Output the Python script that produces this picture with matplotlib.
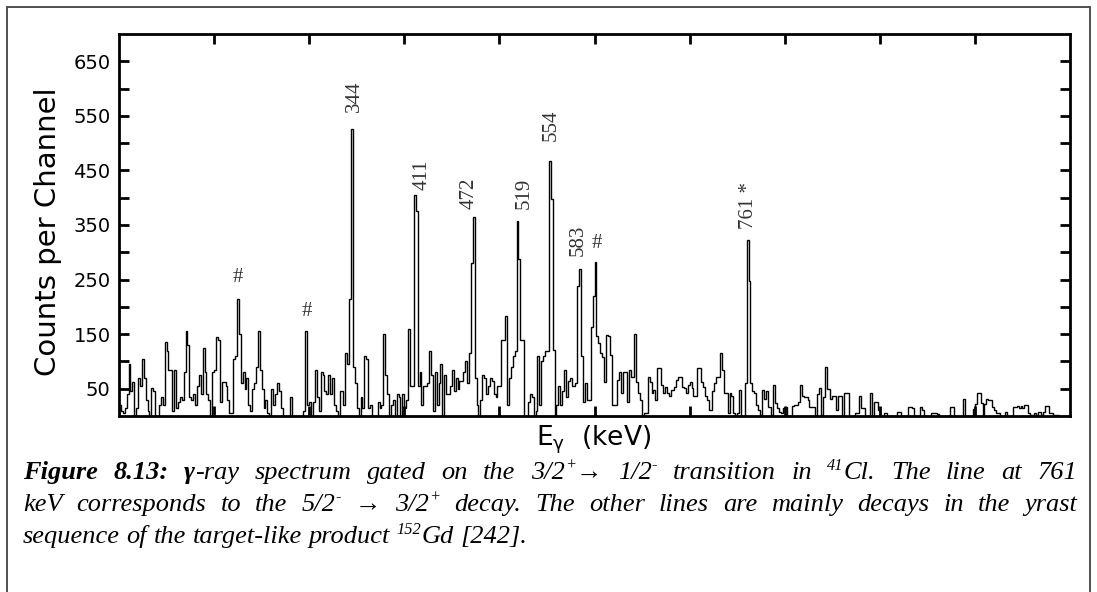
import numpy as np
import matplotlib
matplotlib.use("Agg")
import matplotlib.pyplot as plt
from matplotlib.patches import Rectangle
from matplotlib.ticker import FixedLocator, NullFormatter

W, H = 1097, 592

# counts per 2 keV channel, starting at 100 keV
seg_100 = [20, 10, 5, 15, 40, 95, 45, 62, 0, 15, 70, 55, 105, 70, 30, 10, 0, 52, 45, 0, 0, 20, 35, 20, 135,
           120, 85, 85, 10, 85, 15, 25, 35, 30, 80, 155, 130, 35, 30, 40, 20, 55, 75, 40, 125, 80, 40, 30, 0, 80]
seg_200 = [85, 145, 140, 25, 62, 62, 55, 30, 5, 5, 105, 110, 215, 150, 60, 80, 50, 70, 20, 10, 50, 60, 90, 155, 85,
           50, 15, 30, 5, 0, 50, 20, 40, 60, 45, 15, 0, 0, 0, 0, 35, 0, 0, 0, 0, 0, 0, 10, 155, 20]
seg_300 = [25, 0, 25, 85, 35, 10, 80, 75, 45, 40, 75, 40, 70, 20, 10, 0, 45, 45, 20, 115, 95, 215, 526, 90, 60,
           15, 0, 35, 15, 110, 105, 15, 20, 0, 0, 0, 25, 15, 20, 150, 75, 40, 0, 20, 30, 0, 40, 35, 0, 40]
seg_400 = [15, 30, 160, 55, 55, 405, 375, 55, 80, 20, 55, 55, 60, 120, 75, 10, 80, 20, 60, 95, 0, 75, 40, 40, 55,
           85, 45, 70, 50, 65, 65, 80, 100, 60, 115, 280, 365, 70, 20, 0, 30, 75, 70, 40, 55, 70, 65, 40, 35, 55]
seg_500 = [55, 140, 140, 184, 20, 70, 90, 110, 120, 358, 287, 140, 140, 0, 0, 25, 40, 35, 0, 10, 110, 20, 100, 110, 120,
           120, 467, 397, 121, 0, 20, 55, 20, 45, 85, 35, 65, 70, 55, 55, 60, 238, 270, 110, 25, 60, 30, 30, 164, 219]
seg_600 = [282, 146, 134, 115, 109, 63, 149, 146, 112, 20, 20, 20, 66, 81, 42, 81, 81, 26, 85, 72, 72, 150, 63, 42, 29,
           0, 5, 5, 72, 63, 42, 48, 29, 88, 88, 57, 42, 54, 42, 36, 48, 48, 54, 66, 72, 72, 54, 51, 42, 57]
seg_700 = [63, 51, 36, 36, 88, 88, 63, 54, 36, 29, 11, 11, 45, 60, 72, 72, 115, 85, 42, 42, 5, 43, 36, 5, 0,
           5, 47, 0, 0, 60, 322, 247, 60, 45, 43, 20, 11, 2, 48, 32, 45, 17, 17, 2, 57, 23, 14, 8, 5, 14]
seg_800 = [16, 0, 0, 0, 18, 20, 20, 26, 57, 36, 34, 34, 29, 17, 17, 17, 0, 40, 51, 2, 34, 89, 49, 49, 32,
           36, 36, 11, 36, 36, 0, 43, 43, 43, 0, 0, 0, 6, 6, 36, 14, 14, 0, 0, 0, 43, 0, 25, 25, 11]
seg_900 = [0, 0, 5, 5, 0, 0, 0, 0, 0, 7, 7, 0, 0, 0, 0, 17, 17, 14, 0, 0, 0, 16, 11, 0, 0,
           0, 0, 6, 6, 6, 4, 0, 0, 0, 0, 0, 0, 16, 16, 0, 0, 0, 0, 0, 32, 0, 0, 0, 0, 12]
seg_1000 = [22, 43, 43, 23, 2, 22, 31, 29, 29, 17, 11, 5, 5, 0, 0, 0, 8, 0, 0, 0, 17, 17, 18, 14, 18,
            14, 20, 20, 6, 2, 2, 5, 2, 8, 8, 2, 7, 18, 18, 5, 5, 2, 2, 2, 0, 0, 0, 0, 0, 0]

counts = np.array(seg_100 + seg_200 + seg_300 + seg_400 + seg_500 +
                  seg_600 + seg_700 + seg_800 + seg_900 + seg_1000, dtype=float)
edges = 100 + 2 * np.arange(counts.size + 1)

# peak labels: text, energy, counts, rotated?
lab_text = ["#", "#", "344", "411", "472", "519", "554", "583", "#", "761 *"]
lab_e = [225.4, 297.4, 347.4, 419, 468, 526, 554.6, 583, 602.6, 761.7]
lab_y = [254, 192, 557, 415, 379, 379, 504, 293, 316, 342]
lab_rot = [0, 0, 90, 90, 90, 90, 90, 90, 0, 90]

SERIF = ["Liberation Serif", "DejaVu Serif"]

fig = plt.figure(figsize=(W / 100, H / 100), dpi=100)
ax = fig.add_axes([119 / W, 1 - 416 / H, (1070 - 119) / W, (416 - 34) / H])

ax.stairs(counts, edges, color="black", lw=1.0)

for t, e, y, r in zip(lab_text, lab_e, lab_y, lab_rot):
    if r:
        ax.text(e, y, t, rotation=90, ha="center", va="bottom", fontsize=15,
                family=SERIF, color="#333333")
    else:
        ax.text(e, y, t, ha="center", va="center", fontsize=15,
                family=SERIF, color="#333333")

ax.set_xlim(100, 1100)
ax.set_ylim(0, 700)
ax.xaxis.set_major_locator(FixedLocator(np.arange(200, 1100, 100)))
ax.xaxis.set_major_formatter(NullFormatter())
ax.yaxis.set_major_locator(FixedLocator(np.arange(50, 700, 100)))
ax.yaxis.set_minor_locator(FixedLocator(np.arange(100, 700, 100)))
ax.tick_params(which="both", direction="in", length=7, width=2, top=True, right=True,
               labelsize=14, pad=6)
for s in ax.spines.values():
    s.set_linewidth(2)

fig.text(48 / W, 1 - 232 / H, "Counts per Channel", rotation=90, ha="center", va="center",
         fontsize=21)
fig.text(594 / W, 1 - 445 / H, r"E$_{\mathrm{\gamma}}$  (keV)", ha="center", va="baseline",
         fontsize=19)

# outer frame
fig.add_artist(Rectangle((7 / W, -0.05), (1090 - 7) / W, 1.05 - 7 / H, transform=fig.transFigure,
                         fill=False, edgecolor="#505050", lw=1.4))

# caption, set word by word and justified
CAP = 19
SUP = CAP * 0.62
cap_lines = [
    [[("Figure", "b")], [("8.13:", "b")], [("γ", "b"), ("-ray", "i")], [("spectrum", "i")],
     [("gated", "i")], [("on", "i")], [("the", "i")], [("3/2", "i"), ("+", "s"), ("→", "i")],
     [("1/2", "i"), ("-", "s")], [("transition", "i")], [("in", "i")], [("41", "s"), ("Cl.", "i")],
     [("The", "i")], [("line", "i")], [("at", "i")], [("761", "i")]],
    [[("keV", "i")], [("corresponds", "i")], [("to", "i")], [("the", "i")], [("5/2", "i"), ("-", "s")],
     [("→", "i")], [("3/2", "i"), ("+", "s")], [("decay.", "i")], [("The", "i")], [("other", "i")],
     [("lines", "i")], [("are", "i")], [("mainly", "i")], [("decays", "i")], [("in", "i")],
     [("the", "i")], [("yrast", "i")]],
    [[("sequence", "i")], [("of", "i")], [("the", "i")], [("target-like", "i")], [("product", "i")],
     [("152", "s"), ("Gd", "i")], [("[242].", "i")]],
]
cap_base = [479, 511, 543]
cap_justify = [True, True, False]
x_left, x_right = 23, 1077

renderer = fig.canvas.get_renderer()
for words, yb, just in zip(cap_lines, cap_base, cap_justify):
    placed = []
    for word in words:
        runs = []
        for txt, st in word:
            if st == "s":
                t = fig.text(0, 0, txt, fontsize=SUP, style="italic", family=SERIF, va="baseline")
            else:
                t = fig.text(0, 0, txt, fontsize=CAP, style="italic", family=SERIF, va="baseline",
                             weight="bold" if st == "b" else "normal")
            runs.append((t, st, t.get_window_extent(renderer).width))
        placed.append(runs)
    widths = [sum(r[2] for r in runs) for runs in placed]
    if just:
        gap = (x_right - x_left - sum(widths)) / (len(widths) - 1)
    else:
        gap = CAP * 100 / 72 * 0.25
    x = x_left
    for runs, w in zip(placed, widths):
        for t, st, tw in runs:
            dy = CAP * 100 / 72 * 0.36 if st == "s" else 0
            t.set_position((x / W, 1 - (yb - dy) / H))
            x += tw
        x += gap

fig.savefig("out.png", dpi=100)
